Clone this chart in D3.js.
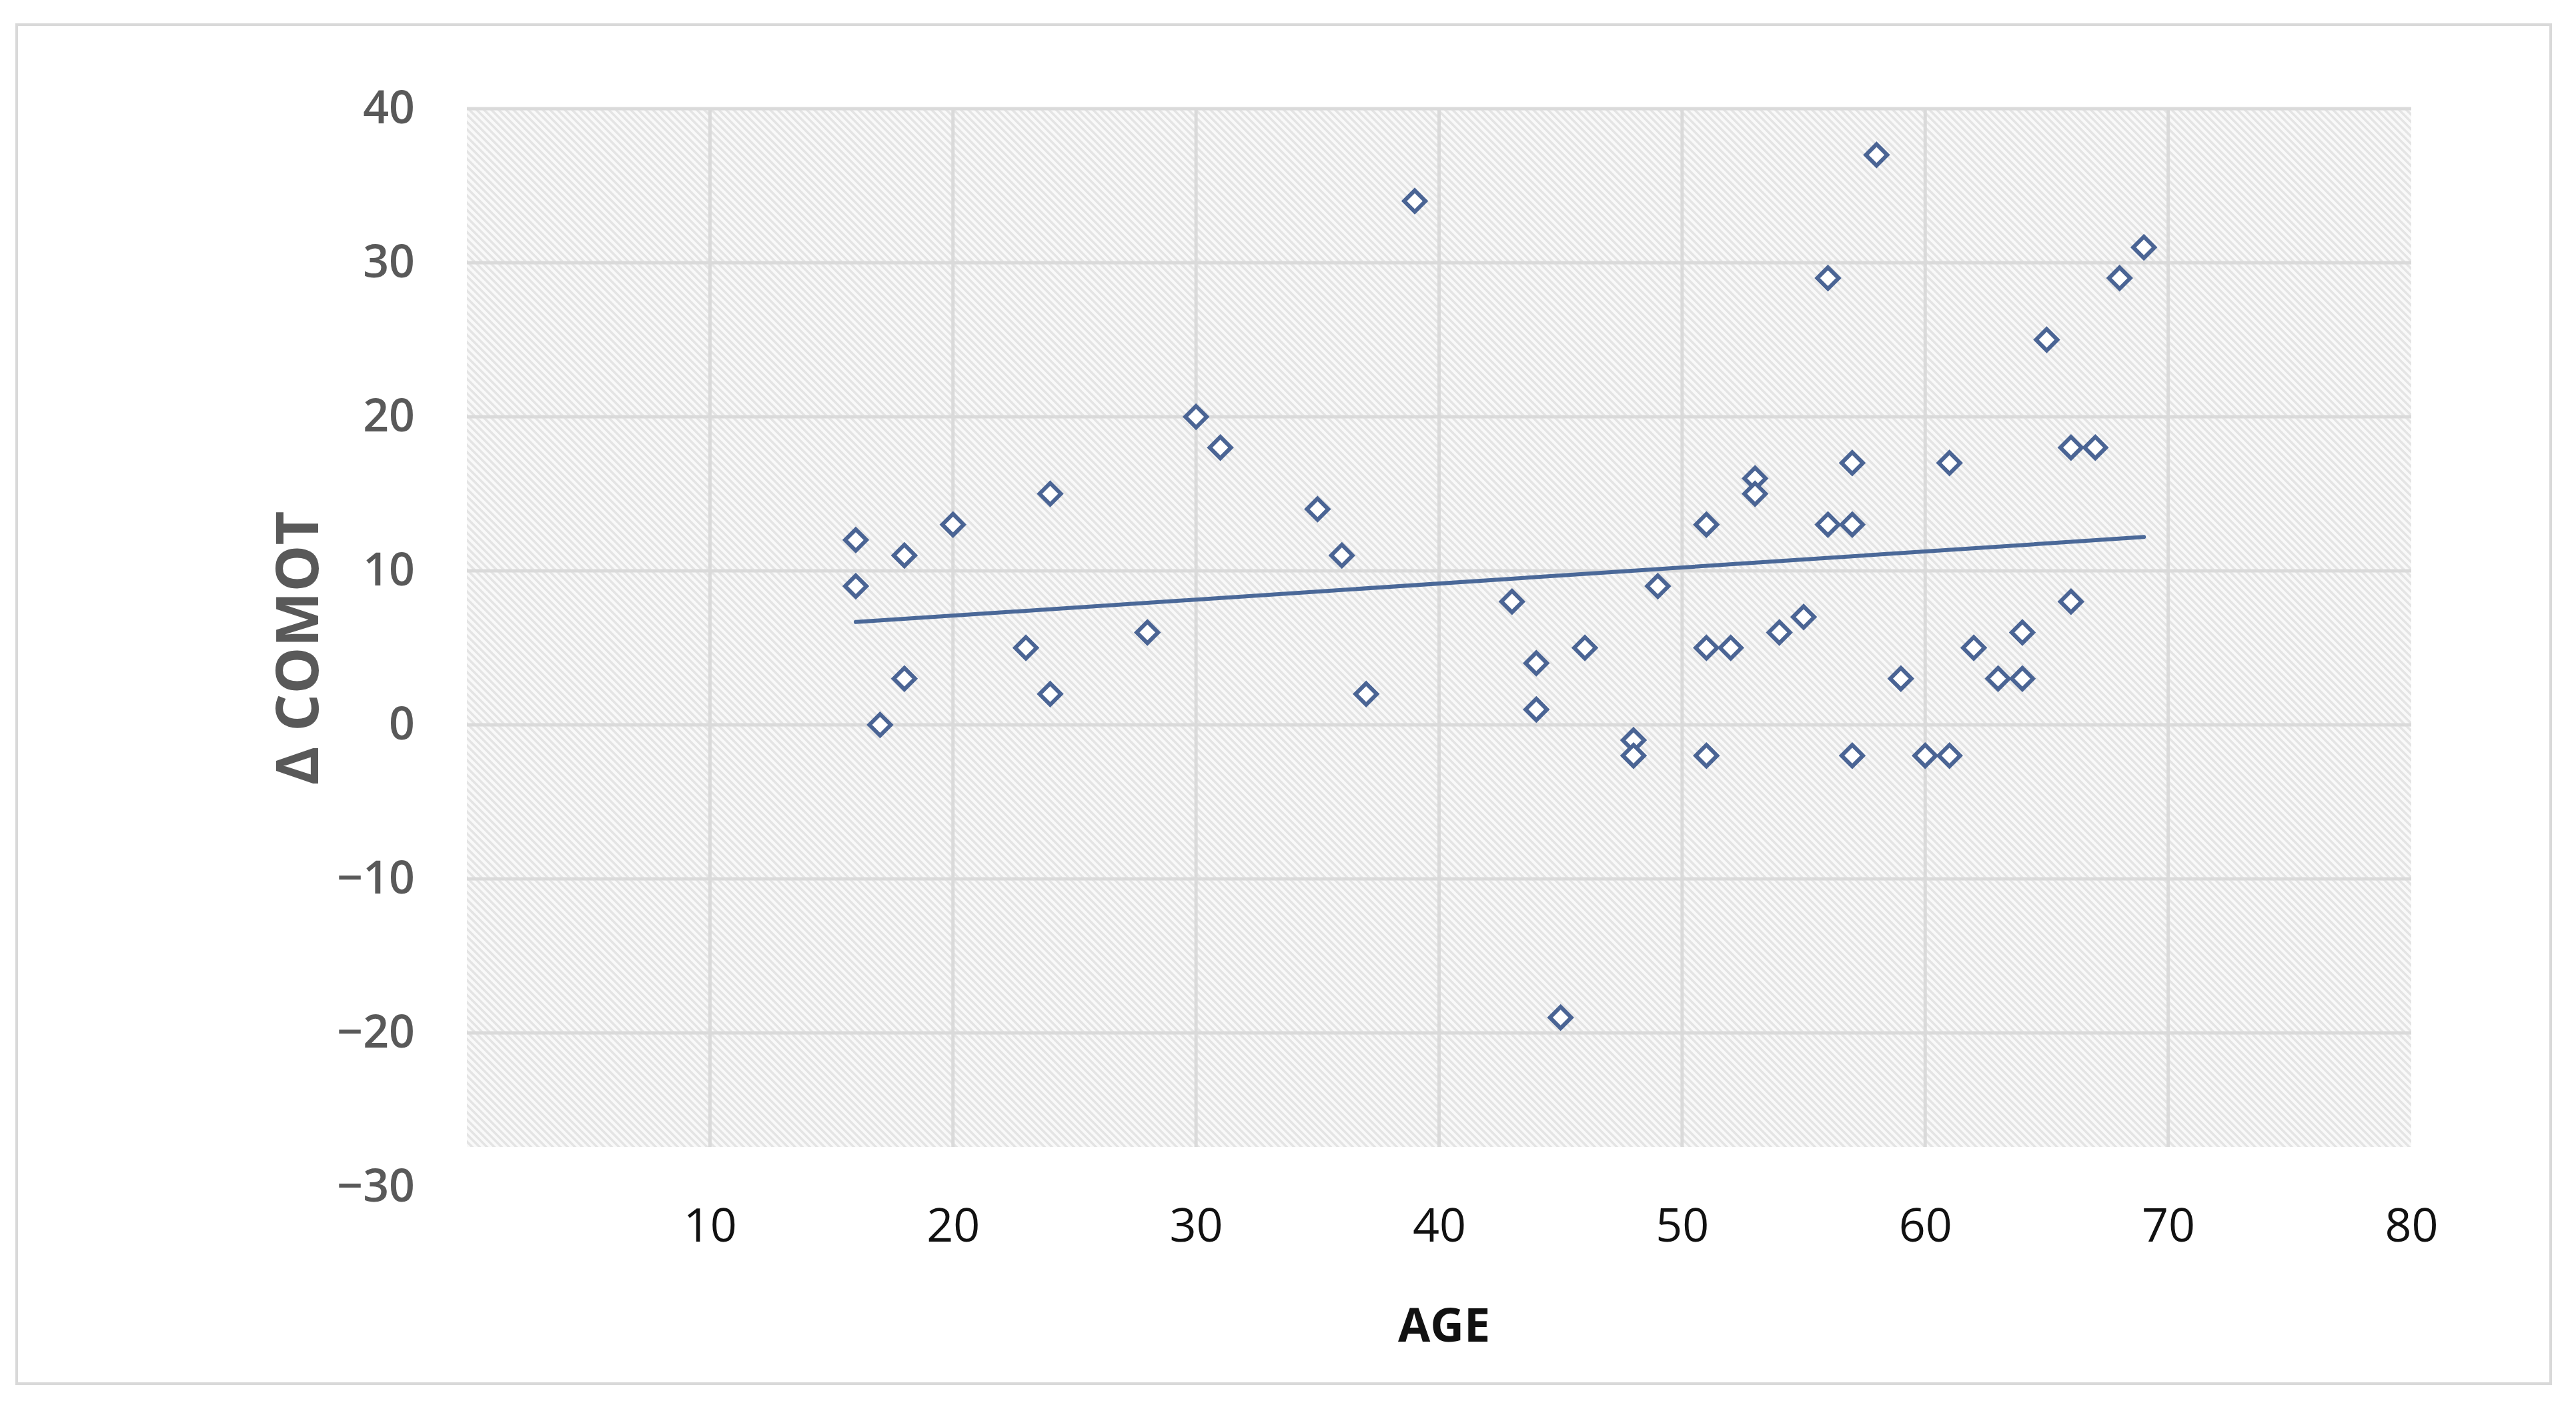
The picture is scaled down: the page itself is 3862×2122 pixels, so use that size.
<!DOCTYPE html>
<html>
<head>
<meta charset="utf-8">
<script src="https://cdn.jsdelivr.net/npm/d3@7"></script>
<style>
  body { margin: 0; background: #fff; }
  svg { display: block; }
</style>
</head>
<body>
<svg id="chart"></svg>
<script>
// data: age vs delta COMOT
var ages = [16, 16, 17, 18, 18, 20, 23, 24, 24, 28, 30, 31, 35, 36, 37, 39, 43, 44, 44, 45, 46, 48, 48, 49,
	51, 51, 51, 52, 53, 53, 54, 55, 56, 56, 57, 57, 57, 58, 59, 60, 61, 61, 62, 63, 64, 64, 65, 66, 66, 67, 68, 69];
var comot = [12, 9, 0, 11, 3, 13, 5, 15, 2, 6, 20, 18, 14, 11, 2, 34, 8, 4, 1, -19, 5, -1, -2, 9,
	13, 5, -2, 5, 16, 15, 6, 7, 29, 13, 17, 13, -2, 37, 3, -2, 17, -2, 5, 3, 6, 3, 25, 18, 8, 18, 29, 31];
var xTicks = [10, 20, 30, 40, 50, 60, 70, 80];
var yTicks = [40, 30, 20, 10, 0, -10, -20, -30];
var xTitle = "AGE";
var yTitle = "Δ COMOT";

var W = 3862, H = 2122;
var plotLeft = 700, plotRight = 3615, plotTop = 163, yBottom = 1780, plotBottom = 1720;

var svg = d3.select("#chart").attr("width", W).attr("height", H);

svg.append("rect")
	.attr("x", 25).attr("y", 37)
	.attr("width", 3799).attr("height", 2038)
	.attr("fill", "#fff")
	.attr("stroke", "#d9d9d9")
	.attr("stroke-width", 4);

// hatch pattern for the plot background
var defs = svg.append("defs");
var pat = defs.append("pattern")
	.attr("id", "hatch")
	.attr("patternUnits", "userSpaceOnUse")
	.attr("width", 11).attr("height", 11);
pat.append("rect").attr("width", 11).attr("height", 11).attr("fill", "#f9f9f9");
pat.append("path")
	.attr("d", "M0,0 L11,11 M-3,8 L3,14 M8,-3 L14,3")
	.attr("stroke", "#e4e4e4")
	.attr("stroke-width", 3.5);

var x = d3.scaleLinear().domain([0, 80]).range([plotLeft, plotRight]);
var y = d3.scaleLinear().domain([-30, 40]).range([yBottom, plotTop]);

svg.append("rect")
	.attr("x", plotLeft).attr("y", plotTop)
	.attr("width", plotRight - plotLeft).attr("height", plotBottom - plotTop)
	.attr("fill", "url(#hatch)");

// gridlines
svg.append("g").selectAll("line")
	.data(yTicks.filter(function(d) {return y(d) <= plotBottom;}))
	.enter().append("line")
		.attr("x1", plotLeft).attr("x2", plotRight)
		.attr("y1", function(d) {return y(d);})
		.attr("y2", function(d) {return y(d);})
		.attr("stroke", "#dadada")
		.attr("stroke-width", 5);

svg.append("g").selectAll("line")
	.data(xTicks.filter(function(d) {return d < 80;}))
	.enter().append("line")
		.attr("x1", function(d) {return x(d);})
		.attr("x2", function(d) {return x(d);})
		.attr("y1", plotTop).attr("y2", plotBottom)
		.attr("stroke", "#dadada")
		.attr("stroke-width", 5);

// axes (labels only)
var yAxis = svg.append("g")
	.attr("transform", "translate(" + (plotLeft - 78) + ",0)")
	.call(d3.axisLeft(y).tickValues(yTicks).tickSize(0).tickPadding(0));
yAxis.select(".domain").remove();
yAxis.selectAll("text")
	.attr("font-family", "'Open Sans', sans-serif")
	.attr("font-size", 68)
	.attr("font-weight", 600)
	.attr("fill", "#595959");

var xAxis = svg.append("g")
	.attr("transform", "translate(0," + 1862 + ")")
	.call(d3.axisBottom(x).tickValues(xTicks).tickSize(0).tickPadding(0));
xAxis.select(".domain").remove();
xAxis.selectAll("text")
	.attr("dy", 0)
	.attr("font-family", "'Open Sans', sans-serif")
	.attr("font-size", 70)
	.attr("font-weight", 400)
	.attr("fill", "#111");

svg.append("text")
	.attr("x", 2165).attr("y", 2012)
	.attr("text-anchor", "middle")
	.attr("font-family", "'Open Sans', sans-serif")
	.attr("font-size", 70)
	.attr("font-weight", 700)
	.attr("fill", "#111")
	.text(xTitle);

svg.append("text")
	.attr("transform", "translate(477,972) rotate(-90)")
	.attr("text-anchor", "middle")
	.attr("font-family", "'Open Sans', sans-serif")
	.attr("font-size", 88)
	.attr("font-weight", 700)
	.attr("fill", "#595959")
	.text(yTitle);

// linear trendline (least squares, like Excel)
var mx = d3.mean(ages), my = d3.mean(comot);
var sxy = d3.sum(ages, function(a, i) {return (a - mx) * (comot[i] - my);});
var sxx = d3.sum(ages, function(a) {return (a - mx) * (a - mx);});
var slope = sxy / sxx, icpt = my - slope * mx;
var xr = d3.extent(ages);

svg.append("line")
	.attr("x1", x(xr[0])).attr("y1", y(icpt + slope * xr[0]))
	.attr("x2", x(xr[1])).attr("y2", y(icpt + slope * xr[1]))
	.attr("stroke", "#4a6898")
	.attr("stroke-width", 6)
	.attr("stroke-linecap", "round");

// diamond markers
var diamond = "M0,-16 L16,0 L0,16 L-16,0 Z";
svg.append("g").selectAll("path")
	.data(ages)
	.enter().append("path")
		.attr("d", diamond)
		.attr("transform", function(d, i) {return "translate(" + x(d) + "," + y(comot[i]) + ")";})
		.attr("fill", "#fff")
		.attr("stroke", "#4a6494")
		.attr("stroke-width", 6)
		.attr("stroke-linejoin", "miter");
</script>
</body>
</html>
